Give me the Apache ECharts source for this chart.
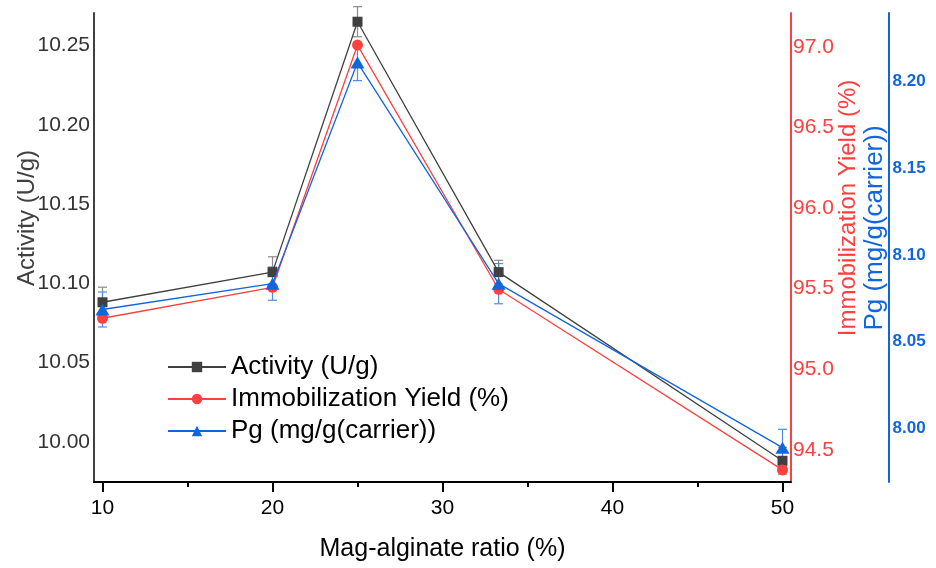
<!DOCTYPE html>
<html>
<head>
<meta charset="utf-8">
<script src="https://cdn.jsdelivr.net/npm/echarts@6/dist/echarts.min.js"></script>
<style>
  html, body { margin: 0; padding: 0; background: #ffffff; }
  #chart { width: 936px; height: 568px; }
</style>
</head>
<body>
<div id="chart"></div>
<script>
// Mag-alginate ratio (%) on the x axis
const ratios = [10, 20, 25, 33.3, 50];

// Activity (U/g) with its standard deviations
const activity = [10.088, 10.107, 10.265, 10.107, 9.988];
const activityErr = [0.0095, 0.0097, 0.0095, 0.0075, 0.0085];

// Immobilization yield (%)
const yieldPct = [95.316, 95.508, 97.011, 95.496, 94.375];

// Pg (mg/g carrier) with its standard deviations
const pg = [8.0685, 8.0834, 8.2109, 8.0834, 7.9888];
const pgErr = [0.0101, 0.0096, 0.0104, 0.0116, 0.0106];

// Tick values
const xMajorTicks = [10, 20, 30, 40, 50];
const xMinorTicks = [15, 25, 35, 45];
const activityTicks = [10.00, 10.05, 10.10, 10.15, 10.20, 10.25];
const yieldTicks = [94.5, 95.0, 95.5, 96.0, 96.5, 97.0];
const pgTicks = [8.00, 8.05, 8.10, 8.15, 8.20];

const FONT = 'Liberation Sans, Arial, Helvetica, sans-serif';
const GREY = '#404040';
const RED = '#ff4040';
const BLUE = '#1166dd';

const chart = echarts.init(document.getElementById('chart'), null, { renderer: 'canvas' });

function pairs(xs, ys) { return xs.map((x, i) => [x, ys[i]]); }
function triples(xs, ys, es) { return xs.map((x, i) => [x, ys[i], es[i]]); }

// vertical error bar with caps, placed through the axis scales
function errorBarRenderer(color) {
  return function (params, api) {
    const x = api.value(0), y = api.value(1), e = api.value(2);
    const lo = api.coord([x, y - e]);
    const hi = api.coord([x, y + e]);
    const hw = 4.5;
    const style = { stroke: color, lineWidth: 1.2 };
    return {
      type: 'group',
      children: [
        { type: 'line', shape: { x1: lo[0], y1: lo[1], x2: hi[0], y2: hi[1] }, style },
        { type: 'line', shape: { x1: lo[0] - hw, y1: lo[1], x2: lo[0] + hw, y2: lo[1] }, style },
        { type: 'line', shape: { x1: hi[0] - hw, y1: hi[1], x2: hi[0] + hw, y2: hi[1] }, style }
      ]
    };
  };
}

const option = {
  backgroundColor: '#ffffff',
  animation: false,
  textStyle: { fontFamily: FONT },
  grid: { left: 94, right: 145, top: 13, bottom: 86, containLabel: false },
  legend: {
    data: ['Activity (U/g)', 'Immobilization Yield (%)', 'Pg (mg/g(carrier))'],
    orient: 'vertical',
    left: 162,
    top: 349,
    itemWidth: 58,
    itemHeight: 13,
    itemGap: 6,
    textStyle: { fontFamily: FONT, fontSize: 26, lineHeight: 26, color: '#000000' }
  },
  xAxis: [
    {
      type: 'value',
      min: 9.5,
      max: 50.5,
      position: 'bottom',
      name: 'Mag-alginate ratio (%)',
      nameLocation: 'middle',
      nameGap: 55,
      nameTextStyle: { fontFamily: FONT, fontSize: 25, color: '#000000' },
      axisLine: { show: true, onZero: false, lineStyle: { color: '#000000', width: 2 } },
      axisTick: { show: true, customValues: xMajorTicks, length: 10, lineStyle: { color: '#000000', width: 2 } },
      axisLabel: { customValues: xMajorTicks, fontSize: 21, color: '#000000', margin: 16, fontFamily: FONT },
      splitLine: { show: false }
    },
    {
      type: 'value',
      min: 9.5,
      max: 50.5,
      position: 'bottom',
      axisLine: { show: false },
      axisTick: { show: true, customValues: xMinorTicks, length: 5, lineStyle: { color: '#000000', width: 2 } },
      axisLabel: { show: false },
      splitLine: { show: false }
    }
  ],
  yAxis: [
    {
      type: 'value',
      min: 9.9746,
      max: 10.2705,
      position: 'left',
      axisLine: { show: true, onZero: false, lineStyle: { color: GREY, width: 2 } },
      axisTick: { show: false },
      axisLabel: {
        customValues: activityTicks,
        formatter: v => v.toFixed(2),
        fontSize: 21, color: '#333333', margin: 4, fontFamily: FONT
      },
      splitLine: { show: false }
    },
    {
      type: 'value',
      min: 94.3,
      max: 97.21,
      position: 'right',
      offset: 0,
      axisLine: { show: true, onZero: false, lineStyle: { color: RED, width: 2 } },
      axisTick: { show: false },
      axisLabel: {
        customValues: yieldTicks,
        formatter: v => v.toFixed(1),
        fontSize: 21, color: RED, margin: 2, fontFamily: FONT
      },
      splitLine: { show: false }
    },
    {
      type: 'value',
      min: 7.969,
      max: 8.2395,
      position: 'right',
      offset: 97.5,
      axisLine: { show: true, onZero: false, lineStyle: { color: BLUE, width: 2 } },
      axisTick: { show: false },
      axisLabel: {
        customValues: pgTicks,
        formatter: v => v.toFixed(2),
        fontSize: 17, fontWeight: 'bold', color: BLUE, margin: 4, fontFamily: FONT
      },
      splitLine: { show: false }
    }
  ],
  graphic: [
    {
      type: 'text', x: 27, y: 218, rotation: Math.PI / 2,
      style: { text: 'Activity (U/g)', fill: GREY, font: '24px ' + FONT, align: 'center', verticalAlign: 'middle' }
    },
    {
      type: 'text', x: 848, y: 208, rotation: Math.PI / 2,
      style: { text: 'Immobilization Yield (%)', fill: RED, font: '24px ' + FONT, align: 'center', verticalAlign: 'middle' }
    },
    {
      type: 'text', x: 875, y: 228, rotation: Math.PI / 2,
      style: { text: 'Pg (mg/g(carrier))', fill: BLUE, font: '26px ' + FONT, align: 'center', verticalAlign: 'middle' }
    }
  ],
  series: [
    {
      name: 'activityErr', type: 'custom', xAxisIndex: 0, yAxisIndex: 0, z: 2,
      data: triples(ratios, activity, activityErr),
      renderItem: errorBarRenderer('#8a8a8a'), silent: true
    },
    {
      name: 'pgErr', type: 'custom', xAxisIndex: 0, yAxisIndex: 2, z: 2,
      data: triples(ratios, pg, pgErr),
      renderItem: errorBarRenderer('#4d8fe6'), silent: true
    },
    {
      name: 'Activity (U/g)', type: 'line', xAxisIndex: 0, yAxisIndex: 0, z: 3,
      data: pairs(ratios, activity),
      symbol: 'rect', symbolSize: 10,
      lineStyle: { color: GREY, width: 1.3 },
      itemStyle: { color: GREY },
      showAllSymbol: true
    },
    {
      name: 'Immobilization Yield (%)', type: 'line', xAxisIndex: 0, yAxisIndex: 1, z: 4,
      data: pairs(ratios, yieldPct),
      symbol: 'circle', symbolSize: 11,
      lineStyle: { color: RED, width: 1.3 },
      itemStyle: { color: RED },
      showAllSymbol: true
    },
    {
      name: 'Pg (mg/g(carrier))', type: 'line', xAxisIndex: 0, yAxisIndex: 2, z: 5,
      data: pairs(ratios, pg),
      symbol: 'triangle', symbolSize: [14, 12],
      lineStyle: { color: BLUE, width: 1.3 },
      itemStyle: { color: BLUE },
      showAllSymbol: true
    }
  ]
};

chart.setOption(option);
</script>
</body>
</html>
